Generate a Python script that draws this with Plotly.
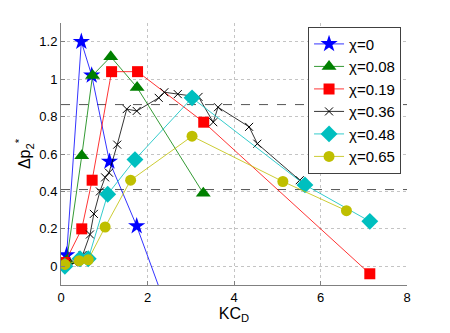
import plotly.graph_objects as go

# chi = 0
x0 = [0.13, 0.47, 0.71, 1.12, 1.75, 2.8]
y0 = [0.06, 1.20, 1.02, 0.56, 0.215, -0.45]
# chi = 0.08
x1 = [0.13, 0.48, 0.73, 1.15, 1.76, 3.29]
y1 = [0.03, 0.59, 1.02, 1.12, 0.955, 0.39]
# chi = 0.19
x2 = [0.09, 0.48, 0.72, 1.17, 1.77, 3.30, 7.14]
y2 = [0.02, 0.20, 0.46, 1.04, 1.04, 0.77, -0.04]
# chi = 0.36
x3 = [0.10, 0.30, 0.50, 0.67, 0.76, 0.90, 1.02, 1.11, 1.30, 1.52, 1.75, 2.26, 2.39, 2.70, 3.18, 3.52, 3.63, 4.35, 4.54, 5.52]
y3 = [0.01, 0.02, 0.06, 0.17, 0.28, 0.40, 0.475, 0.50, 0.65, 0.84, 0.83, 0.90, 0.93, 0.92, 0.905, 0.77, 0.85, 0.745, 0.655, 0.46]
# chi = 0.48
x4 = [0.09, 0.44, 0.63, 1.08, 1.71, 3.03, 5.64, 7.14]
y4 = [0.00, 0.04, 0.04, 0.385, 0.57, 0.90, 0.435, 0.24]
# chi = 0.65
x5 = [0.09, 0.42, 0.63, 1.02, 1.61, 3.03, 5.13, 6.60]
y5 = [0.01, 0.03, 0.035, 0.21, 0.46, 0.695, 0.453, 0.297]

names = ["χ=0", "χ=0.08", "χ=0.19", "χ=0.36", "χ=0.48", "χ=0.65"]
ref_levels = [0.864, 0.41]

series = [(x0, y0), (x1, y1), (x2, y2), (x3, y3), (x4, y4), (x5, y5)]
colors = ["#0000ff", "#008000", "#ff0000", "#000000", "#00bfbf", "#bfbf00"]
symbols = ["star", "triangle-up", "square", "x-thin-open", "diamond", "circle"]
msizes = [13, 13, 11, 8, 13, 11]

fig = go.Figure()
for (xs, ys), nm, c, s, ms in zip(series, names, colors, symbols, msizes):
    fig.add_trace(go.Scatter(
        x=xs, y=ys, name=nm, mode="lines+markers",
        line=dict(color=c, width=0.8),
        marker=dict(symbol=s, size=ms, color=c,
                    line=dict(color=c, width=1 if s == "x-thin-open" else 0)),
        cliponaxis=True,
    ))

for lv in ref_levels:
    fig.add_shape(type="line", xref="paper", yref="y", x0=0, x1=1, y0=lv, y1=lv,
                  line=dict(color="#555555", width=1, dash="dash"), layer="below")

axis_common = dict(
    showline=True, linecolor="#808080", linewidth=1,
    ticks="inside", ticklen=4, tickcolor="#808080",
    showgrid=True, gridcolor="#c4c4c4", griddash="dot", gridwidth=1,
    zeroline=False, mirror=False, automargin=False,
    tickfont=dict(family="Liberation Sans, Arial", size=13, color="#000"),
)

fig.update_layout(
    width=450, height=333,
    margin=dict(l=53, r=51, t=15, b=56),
    paper_bgcolor="white", plot_bgcolor="white",
    font=dict(family="Liberation Sans, Arial", size=13, color="#000"),
    xaxis=dict(range=[0, 8], tickvals=[0, 2, 4, 6, 8],
               title=dict(text="KC<sub>D</sub>", standoff=2), **axis_common),
    yaxis=dict(range=[-0.1, 1.3], tickvals=[0, 0.2, 0.4, 0.6, 0.8, 1, 1.2],
               ticktext=["0", "0.2", "0.4", "0.6", "0.8", "1", "1.2"],
               title=dict(text="Δp<sub>2</sub><sup>*</sup>", standoff=4), **axis_common),
    legend=dict(x=0.714, y=0.986, xanchor="left", yanchor="top",
                bgcolor="white", bordercolor="#404040", borderwidth=1,
                font=dict(size=15), tracegroupgap=0, itemwidth=30),
    showlegend=True,
)

fig.write_html("out.html")
